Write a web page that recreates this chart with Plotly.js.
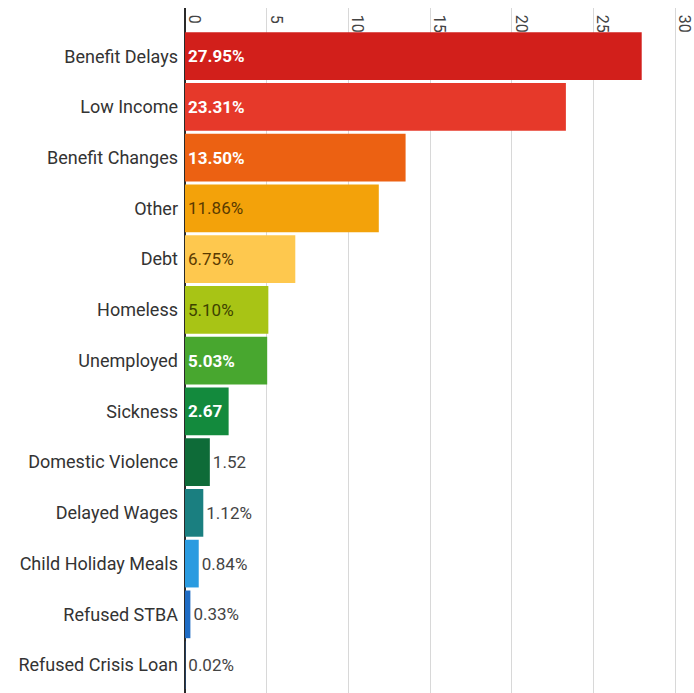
<!DOCTYPE html>
<html>
<head>
<meta charset="utf-8">
<script src="https://cdn.plot.ly/plotly-3.0.1.min.js"></script>
<style>html,body{margin:0;padding:0;background:#fff;}#chart{width:694px;height:693px;}</style>
</head>
<body>
<div id="chart"></div>
<script>
const categories = ["Benefit Delays","Low Income","Benefit Changes","Other","Debt","Homeless","Unemployed","Sickness","Domestic Violence","Delayed Wages","Child Holiday Meals","Refused STBA","Refused Crisis Loan"];
const values = [27.95, 23.31, 13.50, 11.86, 6.75, 5.10, 5.03, 2.67, 1.52, 1.12, 0.84, 0.33, 0.02];
const valueLabels = ["27.95%","23.31%","13.50%","11.86%","6.75%","5.10%","5.03%","2.67","1.52","1.12%","0.84%","0.33%","0.02%"];
const barColors = ["#d21f1b","#e6392a","#ec6112","#f3a20a","#fec84e","#a8c415","#48a72f","#138a3d","#0e6b38","#1a7f80","#2a9be0","#1f6cc4","#1f6cc4"];
const textPos = ["inside","inside","inside","inside","inside","inside","inside","inside","outside","outside","outside","outside","outside"];
const textColors = ["#ffffff","#ffffff","#ffffff","#5a3a00","#5a3a00","#3d4200","#ffffff","#ffffff","#444444","#444444","#444444","#444444","#444444"];
const textWeights = ["bold","bold","bold","normal","normal","normal","bold","bold","normal","normal","normal","normal","normal"];
const xTicks = [0,5,10,15,20,25,30];

const trace = {
  type: "bar",
  orientation: "h",
  y: categories,
  x: values,
  text: valueLabels,
  textposition: textPos,
  insidetextanchor: "start",
  textangle: 0,
  cliponaxis: false,
  constraintext: "none",
  hoverinfo: "none",
  marker: {color: barColors, line: {width: 0}},
  textfont: {family: "Roboto, Arial, sans-serif", size: 17, color: textColors, weight: textWeights}
};

const layout = {
  width: 694, height: 693,
  margin: {l: 185, r: 0, t: 8, b: 0, pad: 0},
  paper_bgcolor: "#fff", plot_bgcolor: "#fff",
  showlegend: false,
  bargap: 0.06,
  font: {family: "Roboto, Arial, sans-serif", color: "#333"},
  xaxis: {
    side: "top",
    range: [0, 31.15],
    tickvals: xTicks,
    ticktext: xTicks.map(String),
    tickangle: 90,
    ticklabelposition: "inside",
    ticklabeloverflow: "allow",
    ticklabelshift: 9,
    ticklabelstandoff: -5,
    ticks: "",
    showgrid: true, gridcolor: "#d8d8d8", gridwidth: 1,
    zeroline: true, zerolinecolor: "#2a2a2a", zerolinewidth: 2,
    showline: false,
    tickfont: {size: 16, color: "#444"},
    fixedrange: true
  },
  yaxis: {
    type: "category",
    categoryorder: "array",
    categoryarray: categories,
    range: [12.55, -0.95],
    autorange: false,
    showgrid: false, zeroline: false, showline: false,
    ticks: "",
    ticklabelstandoff: 6,
    tickfont: {size: 18, color: "#333"},
    fixedrange: true
  }
};

Plotly.newPlot("chart", [trace], layout, {staticPlot: true, displayModeBar: false});
</script>
</body>
</html>
